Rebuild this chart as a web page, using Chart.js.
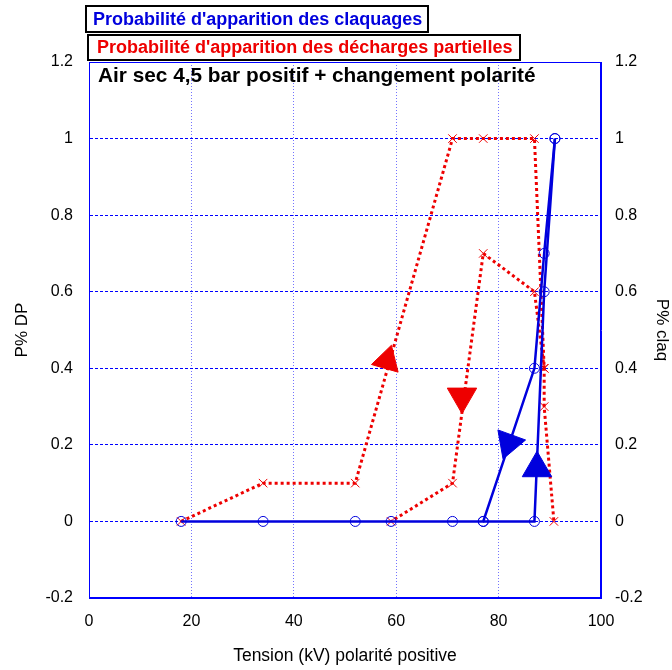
<!DOCTYPE html>
<html>
<head>
<meta charset="utf-8">
<script src="https://cdn.jsdelivr.net/npm/chart.js@4"></script>
<style>
  html, body { margin: 0; padding: 0; background: #fff; }
  #wrap { width: 672px; height: 670px; }
</style>
</head>
<body>
<div id="wrap"><canvas id="chart" width="672" height="670"></canvas></div>
<script>
// claquages (bleu)
const tensionClaqMontee = [18, 34, 52, 59, 71, 77, 87, 88.9, 91];
const probClaqMontee = [0, 0, 0, 0, 0, 0, 0.4, 0.7, 1];
const tensionClaqRetour = [77, 87, 88.9, 91];
const probClaqRetour = [0, 0, 0.6, 1];

// décharges partielles (rouge)
const tensionDPMontee = [18, 34, 52, 71, 77, 87, 88.9, 88.9, 90.8];
const probDPMontee = [0, 0.1, 0.1, 1, 1, 1, 0.4, 0.3, 0];
const tensionDPRetour = [88.9, 87, 77, 71, 59];
const probDPRetour = [0.4, 0.6, 0.7, 0.1, 0];

// flèches de sens de parcours
const flecheDPX = [58.2, 72.85];
const flecheDPY = [0.42, 0.326];
const flecheDPAngle = [16, 180];
const flecheClaqX = [82, 87.5];
const flecheClaqY = [0.205, 0.139];
const flecheClaqAngle = [80, 0];

const xTicks = [0, 20, 40, 60, 80, 100];
const yTicks = [-0.2, 0, 0.2, 0.4, 0.6, 0.8, 1, 1.2];
const yTickLabels = ['-0.2', '0', '0.2', '0.4', '0.6', '0.8', '1', '1.2'];

const BLUE = '#0000dd';
const RED = '#ee0000';
const FONT = 'Liberation Sans, Arial, sans-serif';

const points = (xs, ys) => xs.map((x, i) => ({ x, y: ys[i] }));

const cadre = {
  id: 'cadre',
  beforeDatasetsDraw(c) {
    const { ctx, chartArea: a } = c;
    ctx.save();
    ctx.strokeStyle = 'blue';
    ctx.lineWidth = 1;
    ctx.strokeRect(a.left + 0.5, a.top + 0.5, a.right - a.left - 1, a.bottom - a.top - 1);
    ctx.restore();
  },
  afterDraw(c) {
    const ctx = c.ctx;
    ctx.save();
    ctx.textBaseline = 'alphabetic';
    ctx.lineWidth = 2;
    ctx.strokeStyle = '#000';
    ctx.fillStyle = '#fff';

    ctx.fillRect(86, 6, 342, 26);
    ctx.strokeRect(86, 6, 342, 26);
    ctx.font = 'bold 18px ' + FONT;
    ctx.fillStyle = BLUE;
    ctx.fillText("Probabilité d'apparition des claquages", 93, 25);

    ctx.fillStyle = '#fff';
    ctx.fillRect(88, 35, 432, 25);
    ctx.strokeRect(88, 35, 432, 25);
    ctx.fillStyle = RED;
    ctx.fillText("Probabilité d'apparition des décharges partielles", 97, 53);

    ctx.font = 'bold 20.8px ' + FONT;
    ctx.fillStyle = '#000';
    ctx.fillText('Air sec 4,5 bar positif + changement polarité', 98, 82);
    ctx.restore();
  },
};

new Chart(document.getElementById('chart'), {
  type: 'scatter',
  data: {
    datasets: [
      {
        data: points(flecheClaqX, flecheClaqY),
        pointStyle: 'triangle',
        rotation: flecheClaqAngle,
        radius: 17,
        backgroundColor: BLUE,
        borderColor: BLUE,
        borderWidth: 1,
        showLine: false,
      },
      {
        data: points(tensionClaqMontee, probClaqMontee),
        showLine: true,
        borderColor: BLUE,
        borderWidth: 2.5,
        pointStyle: 'circle',
        radius: 5,
        backgroundColor: 'rgba(0,0,0,0)',
        pointBorderWidth: 1,
      },
      {
        data: points(tensionClaqRetour, probClaqRetour),
        showLine: true,
        borderColor: BLUE,
        borderWidth: 2.5,
        pointStyle: 'circle',
        radius: 5,
        backgroundColor: 'rgba(0,0,0,0)',
        pointBorderWidth: 1,
      },
      {
        data: points(flecheDPX, flecheDPY),
        pointStyle: 'triangle',
        rotation: flecheDPAngle,
        radius: [16, 17],
        backgroundColor: RED,
        borderColor: RED,
        borderWidth: 1,
        showLine: false,
      },
      {
        data: points(tensionDPMontee, probDPMontee),
        showLine: true,
        borderColor: RED,
        borderWidth: 3,
        borderDash: [3, 3],
        pointStyle: 'crossRot',
        radius: 6,
        pointBorderWidth: 1,
      },
      {
        data: points(tensionDPRetour, probDPRetour),
        showLine: true,
        borderColor: RED,
        borderWidth: 3,
        borderDash: [3, 3],
        pointStyle: 'crossRot',
        radius: 6,
        pointBorderWidth: 1,
      },
    ],
  },
  options: {
    responsive: false,
    animation: false,
    devicePixelRatio: 1,
    layout: { padding: { top: 62, right: 0, left: 0, bottom: 0 } },
    plugins: { legend: { display: false }, tooltip: { enabled: false } },
    scales: {
      x: {
        type: 'linear',
        min: 0,
        max: 100,
        afterBuildTicks: (axis) => { axis.ticks = xTicks.map((v) => ({ value: v })); },
        afterFit: (axis) => { axis.height = 72; },
        ticks: { color: '#000', font: { family: FONT, size: 16 }, padding: 14 },
        grid: { color: 'rgba(0,0,255,0.55)', drawTicks: false },
        border: { color: 'blue', dash: [1, 2] },
        title: {
          display: true,
          text: 'Tension (kV) polarité positive',
          color: '#000',
          font: { family: FONT, size: 17.5 },
          padding: { top: 4, bottom: 3 },
        },
      },
      y: {
        type: 'linear',
        position: 'left',
        min: -0.2,
        max: 1.2,
        afterBuildTicks: (axis) => { axis.ticks = yTicks.map((v) => ({ value: v })); },
        afterFit: (axis) => { axis.width = 89; },
        ticks: { color: '#000', font: { family: FONT, size: 16 }, padding: 16, callback: (v, i) => yTickLabels[i] },
        grid: { color: '#0000ff', drawTicks: false },
        border: { color: 'blue', dash: [3, 2] },
        title: {
          display: true,
          text: 'P% DP',
          color: '#000',
          font: { family: FONT, size: 17 },
          padding: { top: 12, bottom: 0 },
        },
      },
      y2: {
        type: 'linear',
        position: 'right',
        min: -0.2,
        max: 1.2,
        afterBuildTicks: (axis) => { axis.ticks = yTicks.map((v) => ({ value: v })); },
        afterFit: (axis) => { axis.width = 71; },
        ticks: { color: '#000', font: { family: FONT, size: 16 }, padding: 14, callback: (v, i) => yTickLabels[i] },
        grid: { drawOnChartArea: false, drawTicks: false },
        border: { color: 'blue' },
        title: {
          display: true,
          text: 'P% claq',
          color: '#000',
          font: { family: FONT, size: 17 },
          padding: { top: 0, bottom: 0 },
        },
      },
    },
  },
  plugins: [cadre],
});
</script>
</body>
</html>
